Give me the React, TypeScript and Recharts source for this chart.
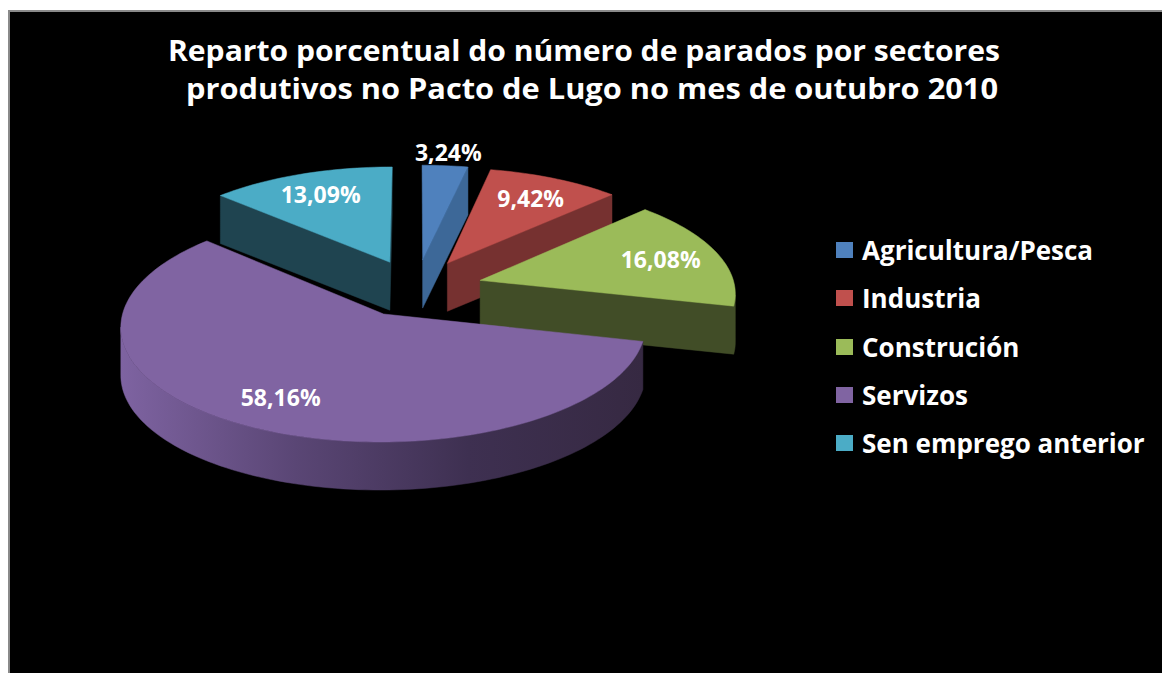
import React from 'react';
import { PieChart, Pie, Cell, Legend } from 'recharts';

const CATEGORIES = ['Agricultura/Pesca', 'Industria', 'Construción', 'Servizos', 'Sen emprego anterior'];
const VALUES = [3.24, 9.42, 16.08, 58.16, 13.09];
const LABELS = ['3,24%', '9,42%', '16,08%', '58,16%', '13,09%'];
const TITLE_LINES = [
  'Reparto porcentual do número de parados por sectores',
  'produtivos no Pacto de Lugo no mes de outubro 2010',
];

const COLORS = ['#4F81BD', '#C0504D', '#9BBB59', '#8064A2', '#4BACC6'];
const WALL_STOPS = [
  ['#3d6898', '#3d6898'],
  ['#763130', '#763130'],
  ['#414d27', '#414d27'],
  ['#7e63a1', '#5a4675', '#3e3051', '#362942'],
  ['#1f4450', '#1f4450'],
];

const data = CATEGORIES.map((name, i) => ({ name, value: VALUES[i], text: LABELS[i] }));

// 3D projection settings
const EXPLODE = 67;
const TILT = 0.43;
const PERSP = 0.1;
const DEPTH = 48;
const RAD = Math.PI / 180;
const FONT = '"Open Sans", "DejaVu Sans", sans-serif';

function project(cx: number, cy: number, R: number, X: number, V: number): [number, number] {
  const s = 1 / (1 + (PERSP * V) / R);
  return [cx + X * s, cy - TILT * V * s];
}

function geometry(p: any) {
  const cx = Number(p.cx);
  const cy = Number(p.cy);
  const R = Number(p.outerRadius);
  const sa = Number(p.startAngle);
  const ea = Number(p.endAngle);
  const ma = p.midAngle != null ? Number(p.midAngle) : (sa + ea) / 2;
  const ox = EXPLODE * Math.cos(ma * RAD);
  const ov = EXPLODE * Math.sin(ma * RAD);
  const pts: [number, number][] = [project(cx, cy, R, ox, ov)];
  const n = Math.max(2, Math.ceil(Math.abs(ea - sa) / 1.5));
  for (let k = 0; k <= n; k++) {
    const a = (sa + ((ea - sa) * k) / n) * RAD;
    pts.push(project(cx, cy, R, ox + R * Math.cos(a), ov + R * Math.sin(a)));
  }
  return { cx, cy, R, ma, ox, ov, pts };
}

function wallRuns(pts: [number, number][]) {
  const n = pts.length;
  let area = 0;
  for (let i = 0; i < n; i++) {
    const [x0, y0] = pts[i];
    const [x1, y1] = pts[(i + 1) % n];
    area += x0 * y1 - x1 * y0;
  }
  const vis: boolean[] = [];
  for (let i = 0; i < n; i++) {
    const [x0, y0] = pts[i];
    const [x1, y1] = pts[(i + 1) % n];
    const dx = x1 - x0;
    const dy = y1 - y0;
    const len = Math.hypot(dx, dy) || 1;
    const ny = area > 0 ? -dx : dx;
    vis.push(ny / len > 0.02);
  }
  const start = vis.findIndex((v) => !v);
  const runs: [number, number][][] = [];
  if (start < 0) return runs;
  let cur: [number, number][] | null = null;
  for (let k = 1; k <= n; k++) {
    const i = (start + k) % n;
    if (vis[i]) {
      if (!cur) cur = [pts[i]];
      cur.push(pts[(i + 1) % n]);
    } else if (cur) {
      runs.push(cur);
      cur = null;
    }
  }
  if (cur) runs.push(cur);
  return runs;
}

const toPath = (pts: [number, number][]) =>
  pts.map((p, i) => `${i ? 'L' : 'M'}${p[0].toFixed(2)},${p[1].toFixed(2)}`).join(' ') + ' Z';

const renderWalls = (p: any) => {
  const idx = p.index;
  const { pts } = geometry(p);
  const runs = wallRuns(pts);
  const stops = WALL_STOPS[idx];
  return (
    <g key={`wall-${idx}`}>
      {runs.map((run, r) => {
        const poly = run.concat(run.slice().reverse().map(([x, y]) => [x, y + DEPTH] as [number, number]));
        const xs = poly.map((q) => q[0]);
        const minX = Math.min(...xs);
        const maxX = Math.max(...xs);
        const gid = `wallgrad-${idx}-${r}`;
        return (
          <g key={r}>
            <defs>
              <linearGradient id={gid} gradientUnits="userSpaceOnUse" x1={minX} y1={0} x2={maxX} y2={0}>
                {stops.map((c, k) => (
                  <stop key={k} offset={stops.length > 1 ? k / (stops.length - 1) : 0} stopColor={c} />
                ))}
              </linearGradient>
            </defs>
            <path d={toPath(poly)} fill={`url(#${gid})`} stroke={`url(#${gid})`} strokeWidth={0.5} />
          </g>
        );
      })}
    </g>
  );
};

const renderTops = (p: any) => {
  const idx = p.index;
  const { cx, cy, R, ma, ox, ov, pts } = geometry(p);
  const pct = Number(p.percent);
  const r = pct < 0.05 ? 1.16 * R : 0.76 * R;
  const [tx, ty] = project(cx, cy, R, ox + r * Math.cos(ma * RAD), ov + r * Math.sin(ma * RAD));
  return (
    <g key={`top-${idx}`}>
      <path d={toPath(pts)} fill={COLORS[idx]} stroke={COLORS[idx]} strokeWidth={0.5} />
      <text
        x={tx}
        y={ty}
        textAnchor="middle"
        dominantBaseline="central"
        fill="#ffffff"
        fontFamily={FONT}
        fontWeight="bold"
        fontSize={23}
      >
        {data[idx].text}
      </text>
    </g>
  );
};

const renderLegend = () => (
  <div style={{ display: 'flex', flexDirection: 'column' }}>
    {CATEGORIES.map((name, i) => (
      <div key={name} style={{ height: 48.3, display: 'flex', alignItems: 'center' }}>
        <span
          style={{
            width: 17,
            height: 16,
            background: COLORS[i],
            marginRight: 9,
            flex: 'none',
            display: 'inline-block',
          }}
        />
        <span
          style={{
            color: '#ffffff',
            fontFamily: FONT,
            fontWeight: 'bold',
            fontSize: 26,
            whiteSpace: 'nowrap',
            lineHeight: '30px',
          }}
        >
          {name}
        </span>
      </div>
    ))}
  </div>
);

export default function App() {
  return (
    <div
      style={{
        position: 'fixed',
        left: 0,
        top: 0,
        width: 1162,
        height: 673,
        overflow: 'hidden',
        background: '#ffffff',
      }}
    >
      <div
        style={{
          position: 'absolute',
          left: 8,
          top: 10,
          width: 1170,
          height: 680,
          background: '#000000',
          borderLeft: '2px solid #8a8a8a',
          borderTop: '2px solid #8a8a8a',
          boxSizing: 'border-box',
        }}
      />
      <svg width={1162} height={130} style={{ position: 'absolute', left: 0, top: 0 }}>
        <text
          x={584}
          y={61}
          textAnchor="middle"
          fill="#ffffff"
          fontFamily={FONT}
          fontWeight="bold"
          fontSize={28}
          textLength={832}
          lengthAdjust="spacingAndGlyphs"
        >
          {TITLE_LINES[0]}
        </text>
        <text
          x={592}
          y={99}
          textAnchor="middle"
          fill="#ffffff"
          fontFamily={FONT}
          fontWeight="bold"
          fontSize={28}
          textLength={812}
          lengthAdjust="spacingAndGlyphs"
        >
          {TITLE_LINES[1]}
        </text>
      </svg>
      <div style={{ position: 'absolute', left: 0, top: 0 }}>
        <PieChart width={1162} height={673} margin={{ top: 0, right: 0, bottom: 0, left: 0 }}>
          <Pie
            data={data}
            dataKey="value"
            nameKey="name"
            cx={416}
            cy={288}
            outerRadius={255}
            startAngle={90}
            endAngle={-270}
            stroke="none"
            label={renderWalls}
            labelLine={false}
            isAnimationActive={false}
            legendType="square"
          >
            {data.map((d, i) => (
              <Cell key={d.name} fill={COLORS[i]} fillOpacity={0} stroke="none" />
            ))}
          </Pie>
          <Pie
            data={data}
            dataKey="value"
            nameKey="name"
            cx={416}
            cy={288}
            outerRadius={255}
            startAngle={90}
            endAngle={-270}
            stroke="none"
            label={renderTops}
            labelLine={false}
            isAnimationActive={false}
            legendType="none"
          >
            {data.map((d, i) => (
              <Cell key={d.name} fill={COLORS[i]} fillOpacity={0} stroke="none" />
            ))}
          </Pie>
          <Legend
            layout="vertical"
            align="right"
            verticalAlign="top"
            content={renderLegend}
            wrapperStyle={{ left: 836, top: 226, width: 326 }}
          />
        </PieChart>
      </div>
    </div>
  );
}
